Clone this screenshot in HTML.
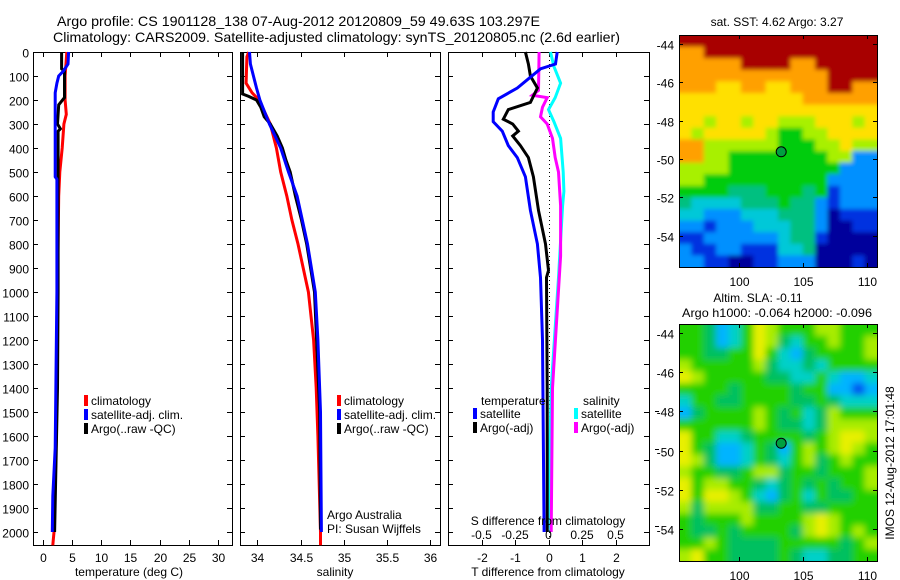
<!DOCTYPE html>
<html><head><meta charset="utf-8">
<style>
html,body{margin:0;padding:0;background:#fff;}
svg{display:block;font-family:"Liberation Sans",sans-serif;}
text{font-size:12px;fill:#000;}
</style></head>
<body>
<svg id="fig" width="900" height="580" viewBox="0 0 900 580">
<defs>
<filter id="soft1" x="0" y="0" width="1" height="1"><feGaussianBlur stdDeviation="2.2"/></filter>
<filter id="soft2" x="0" y="0" width="1" height="1"><feGaussianBlur stdDeviation="3.5"/></filter>
<clipPath id="clip1"><rect x="679" y="35" width="198" height="232"/></clipPath>
<clipPath id="clip2"><rect x="679" y="324" width="198" height="237"/></clipPath>
</defs>
<text x="57" y="26" textLength="483" lengthAdjust="spacingAndGlyphs" style="font-size:14px">Argo profile: CS 1901128_138 07-Aug-2012 20120809_59 49.63S 103.297E</text>
<text x="53" y="42" textLength="567" lengthAdjust="spacingAndGlyphs" style="font-size:14px">Climatology: CARS2009. Satellite-adjusted climatology: synTS_20120805.nc (2.6d earlier)</text>
</svg>
<script>
// ---- depth axis ticks
const depthTicks = [0,100,200,300,400,500,600,700,800,900,1000,1100,1200,1300,1400,1500,1600,1700,1800,1900,2000];
// ---- temperature panel
const tempTicks = [0,5,10,15,20,25,30];
const climTDepth = [0,100,200,260,300,400,500,600,800,1000,1400,1600,1800,2000,2055];
const climTVal   = [4.1,3.8,3.8,4.0,3.6,3.3,2.9,2.7,2.6,2.5,2.4,2.3,2.1,1.9,1.7];
const satTDepth  = [0,50,80,100,130,170,520,530,1000,1650,1850,2000];
const satTVal    = [4.4,4.3,3.5,2.7,2.4,2.1,2.1,2.4,2.4,2.1,1.7,1.6];
const argoTDepth = [0,70,80,190,220,300,320,330,500,1000,1400,2000];
const argoTVal   = [3.2,3.2,3.7,3.7,2.7,2.5,3.0,2.6,2.6,2.6,2.5,2.0];
// ---- salinity panel
const salTicks = [34,34.5,35,35.5,36];
const climSDepth = [0,20,130,170,200,300,400,500,600,700,800,1000,1200,1400,1600,2000,2055];
const climSVal   = [33.9,33.88,33.87,33.94,34.02,34.15,34.22,34.27,34.34,34.4,34.47,34.59,34.65,34.68,34.7,34.73,34.73];
const satSDepth  = [0,50,150,200,300,400,500,600,700,800,1000,1200,1500,2000];
const satSVal    = [33.91,33.92,33.99,34.03,34.14,34.27,34.36,34.46,34.52,34.58,34.67,34.7,34.73,34.74];
const argoSDepth = [0,175,185,200,230,270,300,350,400,450,500,600,700,800,1000,1500,1990];
const argoSVal   = [33.83,33.83,33.9,33.99,34.04,34.08,34.15,34.23,34.29,34.33,34.38,34.44,34.51,34.57,34.66,34.72,34.73];
// ---- difference panel
const dTTicks = [-2,-1,0,1,2];
const dSTicks = [-0.5,-0.25,0,0.25,0.5];
const dTSatDepth = [0,50,70,105,150,195,250,290,330,390,440,520,660,800,940,1200,2000];
const dTSatVal   = [0.26,0.21,-0.24,-0.54,-0.93,-1.5,-1.65,-1.65,-1.38,-1.2,-0.93,-0.69,-0.54,-0.33,-0.24,-0.18,-0.13];
const dTArgoDepth = [0,50,100,150,210,240,280,300,330,350,390,440,520,660,800,910,940,1400,2000];
const dTArgoVal   = [-0.69,-0.6,-0.54,-0.33,-0.54,-1.2,-1.35,-1.07,-0.9,-1.07,-0.84,-0.6,-0.45,-0.3,-0.09,0,-0.06,-0.04,-0.04];
const dSSatDepth = [0,60,130,190,240,290,360,500,580,640,940,1400,1900,2000];
const dSSatVal   = [0.015,0.04,0.09,0.05,0,0.04,0.09,0.11,0.115,0.105,0.075,0.02,0.0,0.015];
const dSArgoDepth = [0,160,180,190,230,270,300,360,440,500,640,850,1400,2000];
const dSArgoVal   = [-0.07,-0.075,-0.12,-0.01,-0.045,-0.06,-0.01,0.03,0.05,0.075,0.09,0.09,0.03,0.02];
// ---- maps
const lonTicks = [100,105,110];
const latTicks = [-44,-46,-48,-50,-52,-54];
const sstGrid = [
"9999999999999999","8899999999999999","8888899998899999","8888888888889999",
"8887788778889988","7777777777888888","7777777777777777","7767767766677767",
"7677777655667777","8866666655566766","8866555555556622","6666555555555222",
"6655555555552222","5555444555451222","4333344454421222","3322233344420111",
"2212223334420011","1122222234410000","2112211133400000","2211001122200010"];
const slaGrid = [
"6653468766677666","6653468754667667","6655668643566667","7666667544546666",
"8766666554464334","6666566665663323","4665566665565444","3566667656457666",
"6666667655457777","8664456666567887","8653346536767876","8753346546756766",
"7665567756656667","8677665456565667","8688764356465566","7577775566556666",
"6566676666787666","6556566665787676","6676555566666567","7866555565445566"];
const sstPal = {"0":"#00009c","1":"#0030e0","2":"#0090ff","3":"#00c8d8","4":"#00c080","5":"#00cc10","6":"#a8f000","7":"#ffe000","8":"#ffa000","9":"#a80000"};
const slaPal = {"2":"#0050f0","3":"#00b4ff","4":"#00d0c8","5":"#00c060","6":"#20d000","7":"#a8ec00","8":"#e8f000"};
const argoLon = 103.3, argoLat = -49.63;

const NS="http://www.w3.org/2000/svg";
const svg=document.getElementById('fig');
function el(tag,attrs,parent){const e=document.createElementNS(NS,tag);for(const k in attrs)e.setAttribute(k,attrs[k]);(parent||svg).appendChild(e);return e;}
function txt(s,x,y,anchor,parent,size){const t=el('text',{x:x,y:y,'text-anchor':anchor||'start'},parent);if(size)t.style.fontSize=size+'px';t.textContent=s;return t;}
function lin(d0,d1,r0,r1){return v=>r0+(v-d0)*(r1-r0)/(d1-d0);}

const yTop=52, yBot=545;
const yD=lin(0,2000,52,532);

function panel(name,x0,x1,xs,xTicks,xTickFmt,labelY,showDepth){
  const g=el('g',{});
  
  
  el('rect',{x:x0+0.5,y:yTop+0.5,width:x1-x0,height:yBot-yTop,fill:'#fff',stroke:'#000','stroke-width':1},g);
  depthTicks.forEach(d=>{
    const y=Math.round(yD(d))+0.5;
    const t=el('path',{d:`M${x0} ${y}h5M${x1} ${y}h-5`,stroke:'#000','stroke-width':1},g);
    
    
    if(showDepth){const l=txt(String(d),x0-4,y+5,'end',g);
      
      }
  });
  xTicks.forEach(v=>{
    const x=Math.round(xs(v))+0.5;
    el('path',{d:`M${x} ${yTop}v5M${x} ${yBot}v-5`,stroke:'#000','stroke-width':1},g);
    if(labelY){const l=txt(xTickFmt(v),x,labelY,'middle',g);
      
      }
  });
  return g;
}
function series(g,name,depths,vals,xs,color){
  const pts=depths.map((d,i)=>xs(vals[i]).toFixed(1)+','+yD(d).toFixed(1)).join(' ');
  const p=el('polyline',{points:pts,fill:'none',stroke:color,'stroke-width':3,'stroke-linejoin':'miter'},g);
  
  
}
function legend(g,items,x,y0,dy){
  items.forEach((it,i)=>{
    const y=y0+i*dy;
    const r=el('rect',{x:x,y:y-10,width:4,height:11,fill:it[1]},g);
    
    
    const t=txt(it[0],x+7,y,'start',g);
    
    
  });
}

// Panel 1 temperature
const xT=lin(-1.7,32.4,33,232);
const p1=panel('temperature-panel',33,232,xT,tempTicks,String,562,true);
series(p1,'temp-climatology-line',climTDepth,climTVal,xT,'#ff0000');
series(p1,'temp-argo-line',argoTDepth,argoTVal,xT,'#000000');
series(p1,'temp-satellite-line',satTDepth,satTVal,xT,'#0000ff');
legend(p1,[['climatology','#ff0000'],['satellite-adj. clim.','#0000ff'],['Argo(..raw -QC)','#000000']],84,405,14);
const a1=txt('temperature (deg C)',129,576,'middle',p1);



// Panel 2 salinity
const xS=lin(33.8,36.11,240,440);
const p2=panel('salinity-panel',240,440,xS,salTicks,String,562,false);
series(p2,'sal-climatology-line',climSDepth,climSVal,xS,'#ff0000');
series(p2,'sal-argo-line',argoSDepth,argoSVal,xS,'#000000');
series(p2,'sal-satellite-line',satSDepth,satSVal,xS,'#0000ff');
legend(p2,[['climatology','#ff0000'],['satellite-adj. clim.','#0000ff'],['Argo(..raw -QC)','#000000']],337,405,14);
const a2=txt('salinity',335,576,'middle',p2);


const c1=txt('Argo Australia',327,519,'start',p2);


const c2=txt('PI: Susan Wijffels',327,533,'start',p2);



// Panel 3 differences
const xdT=lin(-3,3,448,649);
const xdS=lin(-0.75,0.75,448,649);
const p3=panel('difference-panel',448,649,xdT,dTTicks,String,562,false);
const zx=Math.round(xdT(0))+0.5;
const zl=el('line',{x1:zx,y1:yTop,x2:zx,y2:yBot,stroke:'#000','stroke-width':1,'stroke-dasharray':'1,3'},p3);


series(p3,'sdiff-satellite-line',dSSatDepth,dSSatVal,xdS,'#00ffff');
series(p3,'sdiff-argo-line',dSArgoDepth,dSArgoVal,xdS,'#ff00ff');
series(p3,'tdiff-argo-line',dTArgoDepth,dTArgoVal,xdT,'#000000');
series(p3,'tdiff-satellite-line',dTSatDepth,dTSatVal,xdT,'#0000ff');
const lt=txt('temperature',481,405,'start',p3);


const ls=txt('salinity',583,405,'start',p3);


legend(p3,[['satellite','#0000ff'],['Argo(-adj)','#000000']],473,418,14);
legend(p3,[['satellite','#00ffff'],['Argo(-adj)','#ff00ff']],574,418,14);
dSTicks.forEach(v=>{const t=txt(String(v),xdS(v),539,'middle',p3);
  
  });
const st=txt('S difference from climatology',548,525,'middle',p3);


const tt=txt('T difference from climatology',548,576,'middle',p3);


[411,449,488,526].forEach(y=>{el('path',{d:`M655 ${y+0.5}h4`,stroke:'#000'},p3);});

// Maps
function map(name,grid,pal,y0,y1,filt,clip){
  const x0=679,x1=877;
  const lonS=lin(95.3,110.8,x0,x1), latS=lin(-43.54,-55.64,y0,y1);
  const g=el('g',{});
  
  
  const cg=el('g',{'clip-path':'url(#'+clip+')'},g);
  const fg=el('g',{filter:'url(#'+filt+')'},cg);
  const rows=grid.length, cols=grid[0].length;
  const cw=(x1-x0)/cols, rh=(y1-y0)/rows;
  grid.forEach((row,r)=>{[...row].forEach((c,k)=>{
    let x=x0+k*cw, y=y0+r*rh, w=cw+0.6, h=rh+0.6;
    if(k===0){x-=8;w+=8;} if(k===cols-1){w+=8;}
    if(r===0){y-=8;h+=8;} if(r===rows-1){h+=8;}
    const cell=el('rect',{x:x.toFixed(2),y:y.toFixed(2),width:w.toFixed(2),height:h.toFixed(2),fill:pal[c]},fg);
    
    
  });});
  el('rect',{x:x0+0.5,y:y0+0.5,width:x1-x0,height:y1-y0,fill:'none',stroke:'#000'},g);
  latTicks.forEach(v=>{const y=Math.round(latS(v))+0.5;
    el('path',{d:`M${x0} ${y}h4M${x1} ${y}h-4`,stroke:'#000'},g);
    const l=txt(String(v),x0-5,y+5,'end',g);
    
    });
  lonTicks.forEach(v=>{const x=Math.round(lonS(v))+0.5;
    el('path',{d:`M${x} ${y0}v4M${x} ${y1}v-4`,stroke:'#000'},g);
    const l=txt(String(v),x,y1+19,'middle',g);
    
    });
  const m=el('circle',{cx:lonS(argoLon),cy:latS(argoLat),r:5,fill:'#00a040',stroke:'#000','stroke-width':1},g);
  
  
  return g;
}
const m1=map('sst-map',sstGrid,sstPal,35,267,'soft1','clip1');
const t1=txt('sat. SST: 4.62 Argo: 3.27',777,26,'middle',m1);


const m2=map('sla-map',slaGrid,slaPal,324,561,'soft2','clip2');
const t2=txt('Altim. SLA: -0.11',758,302,'middle',m2);


const t3=txt('Argo h1000: -0.064 h2000: -0.096',682,317,'start',m2);
t3.setAttribute('textLength','190');
t3.setAttribute('lengthAdjust','spacingAndGlyphs');


const im=txt('IMOS 12-Aug-2012 17:01:48',0,0,'middle');
im.setAttribute('transform','translate(894,463) rotate(-90)');


</script>
</body></html>
